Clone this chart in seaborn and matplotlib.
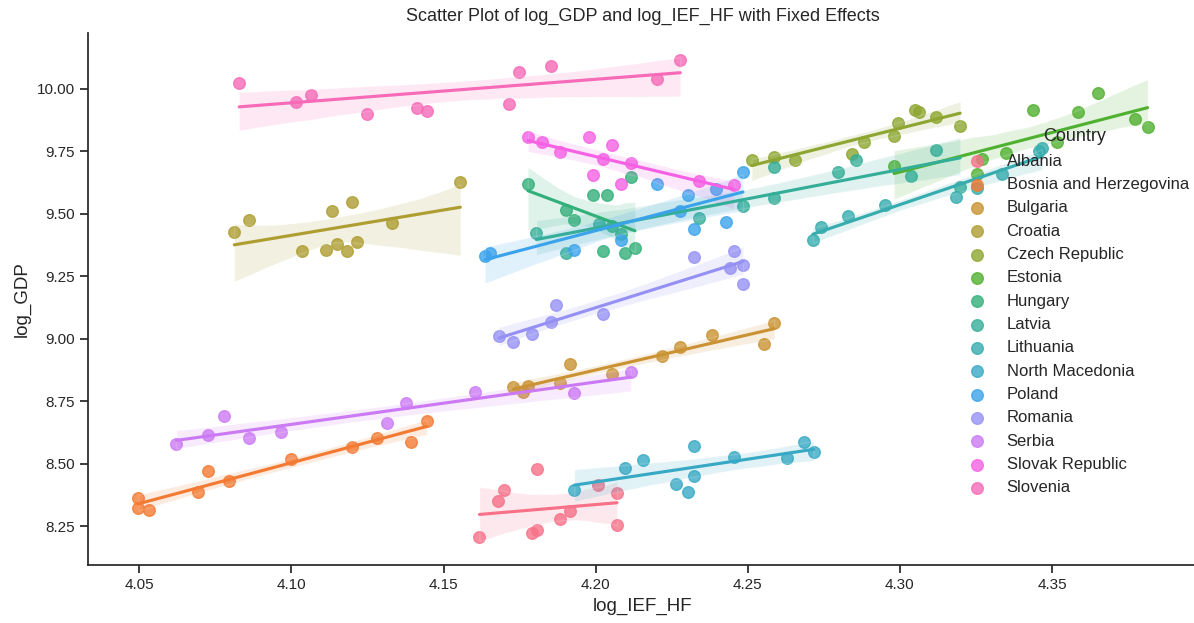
import numpy as np
import pandas as pd
import matplotlib
matplotlib.use("Agg")
import matplotlib.pyplot as plt
import seaborn as sns

# Werte (log_IEF_HF / log_GDP je Land)
countries = ["Albania", "Bosnia and Herzegovina", "Bulgaria", "Croatia", "Czech Republic",
             "Estonia", "Hungary", "Latvia", "Lithuania", "North Macedonia", "Poland",
             "Romania", "Serbia", "Slovak Republic", "Slovenia"]

albania_x = [4.1618, 4.1680, 4.1697, 4.1806, 4.1790, 4.1807, 4.1884, 4.1916, 4.2008, 4.2070, 4.2070]
albania_y = [8.206, 8.351, 8.395, 8.480, 8.223, 8.233, 8.279, 8.312, 8.414, 8.384, 8.255]

bosnia_x = [4.0497, 4.0497, 4.0533, 4.0692, 4.0724, 4.0795, 4.0997, 4.1200, 4.1281, 4.1393, 4.1445]
bosnia_y = [8.362, 8.322, 8.313, 8.387, 8.472, 8.430, 8.521, 8.566, 8.604, 8.588, 8.671]

bulgaria_x = [4.1728, 4.1760, 4.1777, 4.1883, 4.1916, 4.2054, 4.2217, 4.2278, 4.2382, 4.2554, 4.2587]
bulgaria_y = [8.806, 8.789, 8.810, 8.823, 8.899, 8.861, 8.933, 8.968, 9.015, 8.981, 9.062]

croatia_x = [4.0812, 4.0862, 4.1033, 4.1115, 4.1150, 4.1133, 4.1199, 4.1181, 4.1214, 4.1330, 4.1555]
croatia_y = [9.428, 9.477, 9.352, 9.356, 9.379, 9.510, 9.548, 9.352, 9.386, 9.463, 9.626]

czech_x = [4.2513, 4.2585, 4.2656, 4.2842, 4.2882, 4.2979, 4.2994, 4.3050, 4.3063, 4.3118, 4.3198]
czech_y = [9.714, 9.727, 9.717, 9.741, 9.789, 9.810, 9.862, 9.915, 9.908, 9.888, 9.853]

estonia_x = [4.2981, 4.3255, 4.3270, 4.3349, 4.3439, 4.3516, 4.3587, 4.3650, 4.3774, 4.3814]
estonia_y = [9.692, 9.661, 9.718, 9.745, 9.916, 9.787, 9.908, 9.984, 9.881, 9.849]

hungary_x = [4.1777, 4.1902, 4.1930, 4.1990, 4.2037, 4.2115, 4.2024, 4.2097, 4.2129, 4.2084, 4.2055]
hungary_y = [9.621, 9.517, 9.476, 9.575, 9.575, 9.647, 9.352, 9.343, 9.364, 9.418, 9.450]

latvia_x = [4.1805, 4.1902, 4.2010, 4.2338, 4.2483, 4.2585, 4.2585, 4.2798, 4.2855, 4.3037, 4.3118, 4.3198]
latvia_y = [9.425, 9.343, 9.460, 9.484, 9.533, 9.563, 9.688, 9.668, 9.717, 9.651, 9.754, 9.606]

lithuania_x = [4.2714, 4.2741, 4.2828, 4.2951, 4.3185, 4.3253, 4.3335, 4.3456, 4.3467]
lithuania_y = [9.396, 9.447, 9.493, 9.537, 9.567, 9.602, 9.661, 9.751, 9.763]

macedonia_x = [4.1930, 4.2097, 4.2157, 4.2264, 4.2305, 4.2324, 4.2324, 4.2455, 4.2629, 4.2686, 4.2716]
macedonia_y = [8.395, 8.484, 8.516, 8.417, 8.385, 8.451, 8.571, 8.529, 8.522, 8.588, 8.549]

poland_x = [4.1636, 4.1651, 4.1930, 4.2084, 4.2203, 4.2305, 4.2324, 4.2396, 4.2427, 4.2484, 4.2278]
poland_y = [9.332, 9.345, 9.357, 9.396, 9.618, 9.576, 9.438, 9.600, 9.468, 9.668, 9.513]

romania_x = [4.1682, 4.1728, 4.1792, 4.1853, 4.1869, 4.2023, 4.2324, 4.2455, 4.2440, 4.2484, 4.2484]
romania_y = [9.013, 8.989, 9.019, 9.066, 9.135, 9.100, 9.326, 9.352, 9.284, 9.297, 9.221]

serbia_x = [4.0622, 4.0724, 4.0777, 4.0862, 4.0966, 4.1314, 4.1377, 4.1603, 4.1930, 4.2115]
serbia_y = [8.580, 8.614, 8.690, 8.604, 8.628, 8.665, 8.742, 8.788, 8.784, 8.869]

slovak_x = [4.1778, 4.1824, 4.1884, 4.1977, 4.2023, 4.2054, 4.1990, 4.2083, 4.2116, 4.2338, 4.2455]
slovak_y = [9.809, 9.788, 9.748, 9.809, 9.719, 9.776, 9.655, 9.621, 9.702, 9.630, 9.614]

slovenia_x = [4.0828, 4.1016, 4.1065, 4.1249, 4.1413, 4.1444, 4.1714, 4.1747, 4.1852, 4.2203, 4.2278]
slovenia_y = [10.024, 9.946, 9.976, 9.900, 9.925, 9.912, 9.938, 10.066, 10.091, 10.041, 10.117]

all_x = [albania_x, bosnia_x, bulgaria_x, croatia_x, czech_x, estonia_x, hungary_x, latvia_x,
         lithuania_x, macedonia_x, poland_x, romania_x, serbia_x, slovak_x, slovenia_x]
all_y = [albania_y, bosnia_y, bulgaria_y, croatia_y, czech_y, estonia_y, hungary_y, latvia_y,
         lithuania_y, macedonia_y, poland_y, romania_y, serbia_y, slovak_y, slovenia_y]

frames = []
for name, xs, ys in zip(countries, all_x, all_y):
    frames.append(pd.DataFrame({"Country": name, "log_IEF_HF": xs, "log_GDP": ys}))
df = pd.concat(frames, ignore_index=True)

sns.set_theme(style="ticks")
plt.rcParams["font.family"] = ["Liberation Sans", "DejaVu Sans"]

g = sns.lmplot(data=df, x="log_IEF_HF", y="log_GDP", hue="Country", hue_order=countries,
               height=6.23, aspect=1194 / 623, seed=1, scatter_kws={"s": 70},
               facet_kws={"legend_out": False})
fig = g.figure
fig.set_size_inches(11.94, 6.23)
ax = g.ax
ax.set_position([88 / 1194, 58 / 623, 1110 / 1194, 532 / 623])

ax.set_title("Scatter Plot of log_GDP and log_IEF_HF with Fixed Effects", fontsize=13, pad=9)
ax.set_xlabel("log_IEF_HF", fontsize=13.5)
ax.set_ylabel("log_GDP", fontsize=13.5)
ax.tick_params(labelsize=11)

sns.move_legend(ax, "upper left", bbox_to_anchor=(0.772, 0.849), frameon=False,
                title="Country", fontsize=12, title_fontsize=13,
                handletextpad=0.8, labelspacing=0.5)

fig.savefig("out.png", dpi=100)
